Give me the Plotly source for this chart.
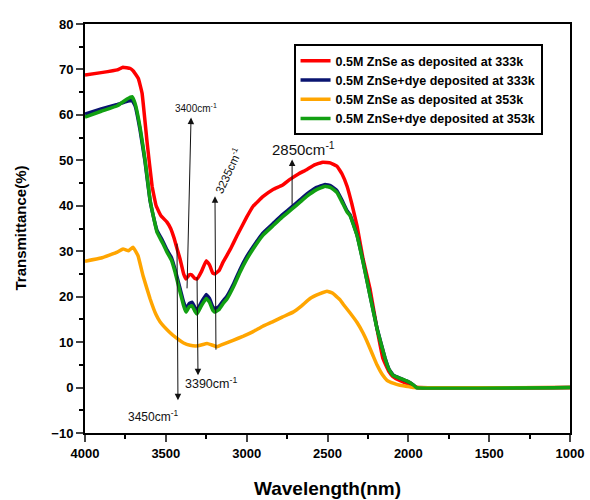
import plotly.graph_objects as go

red_x = [4000, 3900, 3800, 3765, 3720, 3700, 3670, 3647, 3616, 3585, 3560, 3530, 3493, 3470, 3450, 3430,
         3412, 3390, 3375, 3355, 3340, 3320, 3307, 3280, 3250, 3230, 3210, 3196, 3170, 3146, 3100, 3060,
         3000, 2960, 2900, 2837, 2780, 2732, 2680, 2627, 2580, 2528, 2480, 2441, 2410, 2379, 2350, 2317,
         2280, 2237, 2194, 2157, 2120, 2095, 2050, 2000, 1960, 1940, 1000]
red_y = [68.8, 69.3, 69.9, 70.5, 70.2, 69.6, 68.0, 64.8, 54.0, 44.3, 40.0, 37.8, 36.4, 35.0, 33.0, 30.5,
         28.3, 25.0, 23.9, 24.8, 24.8, 24.0, 23.9, 25.5, 27.9, 27.0, 25.2, 25.0, 25.8, 27.6, 30.5, 33.4,
         37.5, 39.9, 42.0, 43.6, 44.5, 45.8, 47.0, 48.0, 49.0, 49.6, 49.4, 48.7, 47.0, 44.3, 40.5, 35.5,
         28.3, 21.7, 13.0, 6.4, 3.5, 2.4, 1.5, 0.8, 0.2, 0.0, 0.0]

dye_x = [4000, 3900, 3800, 3740, 3709, 3690, 3660, 3629, 3598, 3570, 3555, 3520, 3493, 3465, 3443, 3412,
         3390, 3375, 3355, 3338, 3320, 3307, 3280, 3250, 3230, 3210, 3196, 3170, 3145, 3122, 3080, 3041,
         3000, 2960, 2900, 2837, 2780, 2719, 2670, 2627, 2570, 2515, 2480, 2441, 2410, 2379, 2360, 2317,
         2280, 2237, 2194, 2144, 2120, 2095, 2050, 2008, 1970, 1950, 1000]
navy_y = [60.2, 61.3, 62.3, 63.0, 63.2, 62.0, 56.8, 49.8, 41.2, 36.6, 34.6, 32.3, 30.3, 28.6, 26.0, 21.8,
          18.8, 17.4, 18.5, 18.8, 17.6, 17.0, 18.8, 20.5, 19.6, 17.8, 17.3, 17.9, 19.1, 20.1, 22.9, 26.0,
          28.8, 31.0, 34.0, 36.1, 38.0, 39.8, 41.3, 42.6, 44.0, 44.7, 44.4, 43.3, 41.2, 38.9, 38.0, 33.5,
          27.7, 20.3, 13.1, 6.5, 4.1, 2.8, 2.0, 1.4, 0.6, 0.0, 0.0]
green_y = [59.5, 60.8, 62.0, 63.5, 64.0, 62.5, 57.4, 50.2, 41.4, 36.5, 34.2, 31.8, 29.8, 28.0, 25.4, 21.0,
           18.0, 16.6, 17.8, 18.0, 16.8, 16.2, 18.0, 19.6, 18.8, 17.0, 16.6, 17.2, 18.5, 19.5, 22.3, 25.4,
           28.2, 30.5, 33.5, 35.6, 37.5, 39.3, 40.8, 42.1, 43.5, 44.3, 44.0, 42.9, 40.8, 38.6, 37.8, 33.4,
           27.6, 20.2, 13.0, 6.4, 4.0, 2.7, 2.0, 1.4, 0.6, 0.0, 0.0]

orange_x = [4000, 3900, 3800, 3765, 3730, 3703, 3672, 3641, 3598, 3560, 3536, 3480, 3431, 3390, 3350, 3300,
            3245, 3210, 3183, 3140, 3084, 3020, 2960, 2900, 2837, 2780, 2713, 2660, 2608, 2550, 2503, 2470,
            2422, 2404, 2360, 2317, 2280, 2256, 2218, 2194, 2160, 2132, 2090, 2052, 2000, 1970, 1000]
orange_y = [27.8, 28.5, 29.8, 30.5, 30.1, 30.9, 29.0, 24.6, 19.6, 16.0, 14.5, 12.3, 10.8, 9.8, 9.3, 9.2,
            9.7, 9.3, 9.0, 9.6, 10.4, 11.3, 12.3, 13.5, 14.5, 15.5, 16.6, 18.0, 19.6, 20.6, 21.2, 20.8,
            19.3, 18.4, 16.4, 14.3, 12.0, 10.2, 7.0, 5.0, 2.8, 1.6, 0.9, 0.5, 0.2, 0.0, 0.0]

series_names = ["0.5M ZnSe as deposited at 333k", "0.5M ZnSe+dye deposited at 333k",
                "0.5M ZnSe as deposited at 353k", "0.5M ZnSe+dye deposited at 353k"]
colors = ["#ff0000", "#0a1470", "#ffa500", "#12a012"]

x_ticks = [4000, 3500, 3000, 2500, 2000, 1500, 1000]
y_ticks = [-10, 0, 10, 20, 30, 40, 50, 60, 70, 80]

fig = go.Figure()
for xs, ys, name, c in [(red_x, red_y, series_names[0], colors[0]),
                        (dye_x, navy_y, series_names[1], colors[1]),
                        (orange_x, orange_y, series_names[2], colors[2]),
                        (dye_x, green_y, series_names[3], colors[3])]:
    fig.add_trace(go.Scatter(x=xs, y=ys, mode="lines", name=name,
                             line=dict(color=c, width=3.5, shape="spline", smoothing=0.25)))

# arrows (tail -> head)
arrows = [
    ((3369, 21.5), (3344, 59.4)),   # 3400
    ((3431, 32.0), (3425, -2.8)),   # 3450
    ((3307, 24.6), (3301, 2.7)),    # 3390
    ((3190, 8.0), (3196, 42.1)),    # 3235
    ((2719, 39.9), (2719, 50.2)),   # 2850
]
ann = []
for (tx, ty), (hx, hy) in arrows:
    ann.append(dict(x=hx, y=hy, ax=tx, ay=ty, xref="x", yref="y", axref="x", ayref="y",
                    text="", showarrow=True, arrowhead=2, arrowsize=1.3, arrowwidth=1,
                    arrowcolor="#111111", standoff=0))

labels = [
    (3313, 61.6, "3400cm<sup>-1</sup>", 10, 0),
    (3580, -6.3, "3450cm<sup>-1</sup>", 12, 0),
    (3222, 0.9, "3390cm<sup>-1</sup>", 12.5, 0),
    (3112, 47.8, "3235cm<sup>-1</sup>", 11.5, -65),
    (2651, 52.6, "2850cm<sup>-1</sup>", 15, 0),
]
for x, y, t, s, rot in labels:
    ann.append(dict(x=x, y=y, xref="x", yref="y", text=t, showarrow=False, textangle=rot,
                    font=dict(family="Arial", size=s, color="#111111")))

# axis titles
ann.append(dict(x=0.5, y=-55, xref="paper", yref="paper", yshift=0, text="Wavelength(nm)",
                showarrow=False, font=dict(family="Arial", size=19, weight="bold")))
fig.update_layout(
    width=590, height=500,
    margin=dict(l=85, r=20, t=24, b=67),
    paper_bgcolor="white", plot_bgcolor="white",
    font=dict(family="Arial", color="black"),
    annotations=ann[:-1] + [
        dict(x=0.5, y=0, xref="paper", yref="paper", yanchor="middle", yshift=-55,
             text="Wavelength(nm)", showarrow=False,
             font=dict(family="Arial", size=19, weight="bold")),
        dict(x=0, y=0.5, xref="paper", yref="paper", xanchor="center", xshift=-65,
             text="Transmittance(%)", showarrow=False, textangle=-90,
             font=dict(family="Arial", size=15, weight="bold")),
    ],
    legend=dict(x=0.43, y=0.951, xanchor="left", yanchor="top",
                bordercolor="black", borderwidth=2, bgcolor="white",
                font=dict(family="Arial", size=12.5, weight="bold"),
                tracegroupgap=0, itemwidth=30),
    xaxis=dict(range=[4000, 1000], tickvals=x_ticks, ticks="outside", ticklen=7, tickwidth=2,
               showline=True, linewidth=2, linecolor="black", mirror=True, showgrid=False, zeroline=False,
               automargin=False,
               tickfont=dict(family="Arial", size=13, weight="bold"),
               minor=dict(dtick=250, ticks="outside", ticklen=4, tickwidth=2, tickcolor="black")),
    yaxis=dict(range=[-10, 80], tickvals=y_ticks, ticks="outside", ticklen=7, tickwidth=2,
               showline=True, linewidth=2, linecolor="black", mirror=True, showgrid=False, zeroline=False,
               automargin=False,
               tickfont=dict(family="Arial", size=13, weight="bold"),
               minor=dict(dtick=5, ticks="outside", ticklen=4, tickwidth=2, tickcolor="black")),
)

fig.write_html("out.html")
